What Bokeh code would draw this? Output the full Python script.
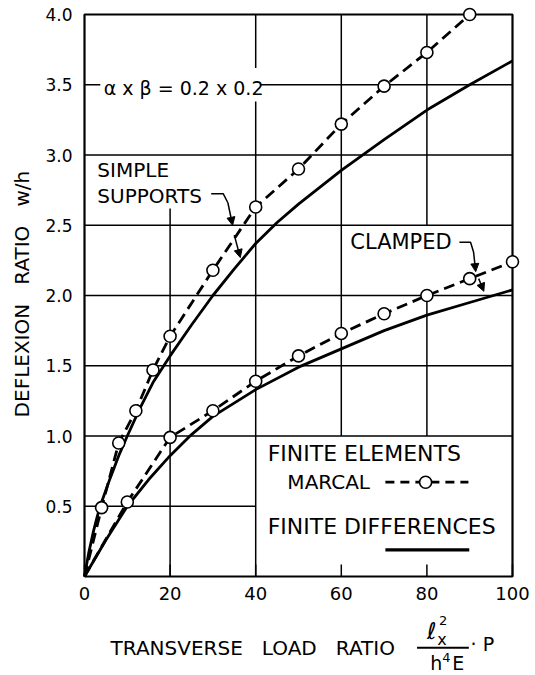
from bokeh.plotting import figure
from bokeh.models import Range1d, Label, Arrow, NormalHead
from bokeh.core.properties import value
from bokeh.embed import file_html
from bokeh.resources import INLINE

# ---------------- data ----------------
X_TICKS = [0, 20, 40, 60, 80, 100]
X_TICK_LABELS = ["0", "20", "40", "60", "80", "100"]
Y_TICKS = [0.5, 1.0, 1.5, 2.0, 2.5, 3.0, 3.5, 4.0]
Y_TICK_LABELS = ["0.5", "1.0", "1.5", "2.0", "2.5", "3.0", "3.5", "4.0"]

# Finite elements (Marcal) - simple supports
fe_simple_x = [0, 4, 8, 12, 16, 20, 30, 40, 50, 60, 70, 80, 90]
fe_simple_y = [0, 0.49, 0.95, 1.18, 1.47, 1.71, 2.18, 2.63, 2.90, 3.22, 3.49, 3.73, 4.0]
# Finite elements (Marcal) - clamped
fe_clamped_x = [0, 10, 20, 30, 40, 50, 60, 70, 80, 90, 100]
fe_clamped_y = [0, 0.53, 0.99, 1.18, 1.39, 1.57, 1.73, 1.87, 2.0, 2.12, 2.24]

# Finite differences - simple supports
fd_simple_x = [0, 1, 2, 3, 4, 6, 8, 10, 13, 16, 20, 25, 30, 35, 40, 45, 50, 60, 70, 80, 90, 100]
fd_simple_y = [0, 0.17, 0.31, 0.43, 0.53, 0.70, 0.86, 1.0, 1.2, 1.38, 1.57, 1.79, 2.0, 2.19,
               2.37, 2.52, 2.65, 2.89, 3.11, 3.32, 3.50, 3.67]
# Finite differences - clamped
fd_clamped_x = [0, 5, 10, 15, 20, 25, 30, 40, 50, 60, 70, 80, 90, 100]
fd_clamped_y = [0, 0.26, 0.5, 0.69, 0.86, 1.01, 1.14, 1.33, 1.49, 1.62, 1.75, 1.86, 1.95, 2.04]

FONT = "DejaVu Sans"
GAP = "\u00a0\u00a0 "   # wide word gap (plain spaces collapse in SVG)

# ---------------- layout ----------------
W, H = 535, 675
FRAME_L, FRAME_T = 84, 14          # pixel position of the data box
PX_PER_X, PX_PER_Y = 4.28, 140.5
X0, X1 = X_TICKS[0], X_TICKS[-1]
Y0, Y1 = 0.0, Y_TICKS[-1]
x_lo = X0 - FRAME_L / PX_PER_X
x_hi = x_lo + W / PX_PER_X
y_hi = Y1 + FRAME_T / PX_PER_Y
y_lo = y_hi - H / PX_PER_Y

p = figure(width=W, height=H, x_range=Range1d(x_lo, x_hi), y_range=Range1d(y_lo, y_hi),
           output_backend="svg", toolbar_location=None,
           x_axis_location=None, y_axis_location=None,
           min_border=0, min_border_left=0, min_border_right=0,
           min_border_top=0, min_border_bottom=0)
p.xgrid.visible = False
p.ygrid.visible = False
p.outline_line_color = None
p.background_fill_color = "white"
p.border_fill_color = "white"

# ---------------- partial grid lines ----------------
GRID_V = [(20, 0, 2.62), (40, 0, 3.38), (40, 3.62, 4.0), (60, 1.0, 4.0),
          (80, 1.0, 2.0), (80, 2.5, 4.0)]
GRID_H = [(0.5, 0, 40), (1.0, 0, 100), (1.5, 0, 100), (2.0, 0, 100), (2.5, 0, 100),
          (3.0, 0, 100), (3.5, 0, 3.7), (3.5, 41.1, 100)]
p.segment(x0=[g[0] for g in GRID_V], y0=[g[1] for g in GRID_V],
          x1=[g[0] for g in GRID_V], y1=[g[2] for g in GRID_V],
          line_color="black", line_width=1.5)
p.segment(x0=[g[1] for g in GRID_H], y0=[g[0] for g in GRID_H],
          x1=[g[2] for g in GRID_H], y1=[g[0] for g in GRID_H],
          line_color="black", line_width=1.5)

# inner tick stubs on the bottom edge
TICK_LEN = 12 / PX_PER_Y
p.segment(x0=X_TICKS, y0=[Y0] * len(X_TICKS), x1=X_TICKS,
          y1=[Y0 + TICK_LEN] * len(X_TICKS), line_color="black", line_width=1.5)

# frame box
p.line([X0, X1, X1, X0, X0], [Y0, Y0, Y1, Y1, Y0], line_color="black", line_width=2.2)

# tick labels
p.text(x=X_TICKS, y=[Y0 - 17 / PX_PER_Y] * len(X_TICKS), text=X_TICK_LABELS,
       text_font=value(FONT), text_font_size="18px", text_align="center",
       text_baseline="middle", text_color="black")
p.text(x=[X0 - 12 / PX_PER_X] * len(Y_TICKS), y=Y_TICKS, text=Y_TICK_LABELS,
       text_font=value(FONT), text_font_size="17px", text_align="right",
       text_baseline="middle", text_color="black")

# ---------------- curves ----------------
LW = 2.8
DASH = "11 6"
p.line(fd_simple_x, fd_simple_y, line_color="black", line_width=LW)
p.line(fd_clamped_x, fd_clamped_y, line_color="black", line_width=LW)
p.line(fe_simple_x, fe_simple_y, line_color="black", line_width=LW, line_dash=DASH)
p.line(fe_clamped_x, fe_clamped_y, line_color="black", line_width=LW, line_dash=DASH)
p.scatter(fe_simple_x[1:], fe_simple_y[1:], marker="circle", size=12,
          fill_color="white", line_color="black", line_width=1.6)
p.scatter(fe_clamped_x[1:], fe_clamped_y[1:], marker="circle", size=12,
          fill_color="white", line_color="black", line_width=1.6)

# ---------------- annotations ----------------
def lab(x, y, text, size=19, align="left", angle=0):
    p.add_layout(Label(x=x, y=y, text=text, text_font=FONT, text_font_size=f"{size}px",
                       text_align=align, text_baseline="middle", text_color="black",
                       angle=angle, angle_units="deg"))

lab(4.5, 3.48, "\u03b1 x \u03b2 = 0.2 x 0.2", size=19)
lab(3.0, 2.89, "SIMPLE", size=20)
lab(3.0, 2.71, "SUPPORTS", size=20)
lab(62.1, 2.38, "CLAMPED", size=21)

# leaders
p.line([29.6, 32.4, 33.5], [2.725, 2.725, 2.66], line_color="black", line_width=1.5)
p.line([87.6, 90.2, 90.9], [2.379, 2.379, 2.31], line_color="black", line_width=1.5)
LEADERS = [(33.5, 2.66, 34.6, 2.50), (35.0, 2.43, 36.4, 2.27),
           (90.9, 2.31, 91.4, 2.17), (92.1, 2.12, 93.3, 2.03)]
for xa, ya, xb, yb in LEADERS:
    p.add_layout(Arrow(x_start=xa, y_start=ya, x_end=xb, y_end=yb, line_width=1.5,
                       line_color="black",
                       end=NormalHead(size=8, fill_color="black", line_color="black")))

# legend
lab(42.8, 0.873, "FINITE ELEMENTS", size=22)
lab(47.4, 0.671, "MARCAL", size=20)
lab(42.8, 0.356, "FINITE DIFFERENCES", size=22)
p.line([70.3, 89.7], [0.671, 0.671], line_color="black", line_width=LW, line_dash="9 6")
p.scatter([79.7], [0.671], marker="circle", size=12, fill_color="white",
          line_color="black", line_width=1.6)
p.line([70.3, 89.9], [0.19, 0.19], line_color="black", line_width=3.2)

# axis titles
lab(-14.6, 2.01, "DEFLEXION" + GAP + "RATIO" + GAP + "w/h", size=20, align="center", angle=90)
lab(6.1, -0.512, "TRANSVERSE" + GAP + "LOAD" + GAP + "RATIO", size=20)
lab(80.0, -0.39, "\u2113", size=23)
lab(82.4, -0.445, "x", size=16)
lab(82.8, -0.31, "2", size=13)
p.line([77.7, 89.8], [-0.507, -0.507], line_color="black", line_width=1.8)
lab(80.8, -0.616, "h", size=19)
lab(83.6, -0.574, "4", size=13)
lab(85.9, -0.616, "E", size=19)
lab(90.2, -0.477, "\u00b7 P", size=19)

open("out.html", "w").write(file_html(p, INLINE))
